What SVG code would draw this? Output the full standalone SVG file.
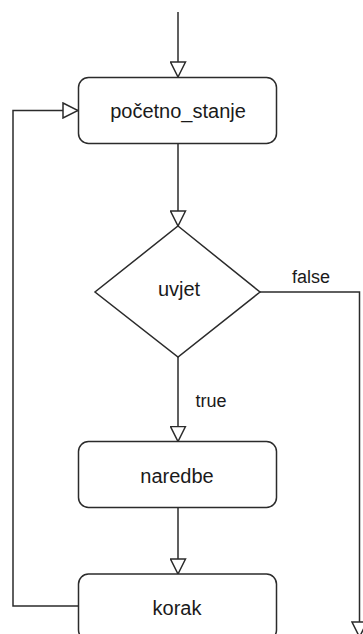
<svg xmlns="http://www.w3.org/2000/svg" width="363" height="634" viewBox="0 0 363 634">
  <style>
    .box { fill: #ffffff; stroke: #2b2b2b; stroke-width: 1.5; }
    .edge { fill: none; stroke: #2b2b2b; stroke-width: 1.5; }
    .lbl { font-family: "Liberation Sans", Arial, sans-serif; font-size: 20px; fill: #1a1a1a; text-anchor: middle; }
    .elbl { font-family: "Liberation Sans", Arial, sans-serif; font-size: 18px; fill: #1a1a1a; text-anchor: middle; }
  </style>
  <defs>
    <!-- open (hollow) triangular arrowhead -->
    <marker id="open" viewBox="-1 -1 17 17" refX="15" refY="7.5" markerWidth="17" markerHeight="17" markerUnits="userSpaceOnUse" orient="auto">
      <path d="M0,0 L15,7.5 L0,15 Z" fill="#ffffff" stroke="#2b2b2b" stroke-width="1.5" stroke-linejoin="miter"/>
    </marker>
  </defs>

  <rect width="363" height="634" fill="#ffffff"/>

  <g id="connectors">
    <path class="edge" d="M178,12 L178,77" marker-end="url(#open)"/>
    <path class="edge" d="M178,144 L178,226" marker-end="url(#open)"/>
    <path class="edge" d="M178,357 L178,441.5" marker-end="url(#open)"/>
    <path class="edge" d="M178,507.5 L178,574" marker-end="url(#open)"/>
    <path class="edge" d="M78.5,606 L13,606 L13,110.5 L78,110.5" marker-end="url(#open)"/>
    <path class="edge" d="M260,292 L359.5,292 L359.5,637" marker-end="url(#open)"/>
    <text class="elbl" x="311" y="283">false</text>
    <text class="elbl" x="211" y="407">true</text>
  </g>

  <g id="pocetno_stanje">
    <rect class="box" x="78.5" y="77.5" width="198" height="66" rx="10" ry="10"/>
    <text class="lbl" x="178" y="118">početno_stanje</text>
  </g>

  <g id="uvjet">
    <path class="box" d="M178,226 L260,292 L178,357 L95,292 Z"/>
    <text class="lbl" x="179" y="296">uvjet</text>
  </g>

  <g id="naredbe">
    <rect class="box" x="78.5" y="441.5" width="198" height="66" rx="10" ry="10"/>
    <text class="lbl" x="177" y="482.5">naredbe</text>
  </g>

  <g id="korak">
    <rect class="box" x="78.5" y="574" width="198" height="66" rx="10" ry="10"/>
    <text class="lbl" x="177" y="615">korak</text>
  </g>
</svg>
